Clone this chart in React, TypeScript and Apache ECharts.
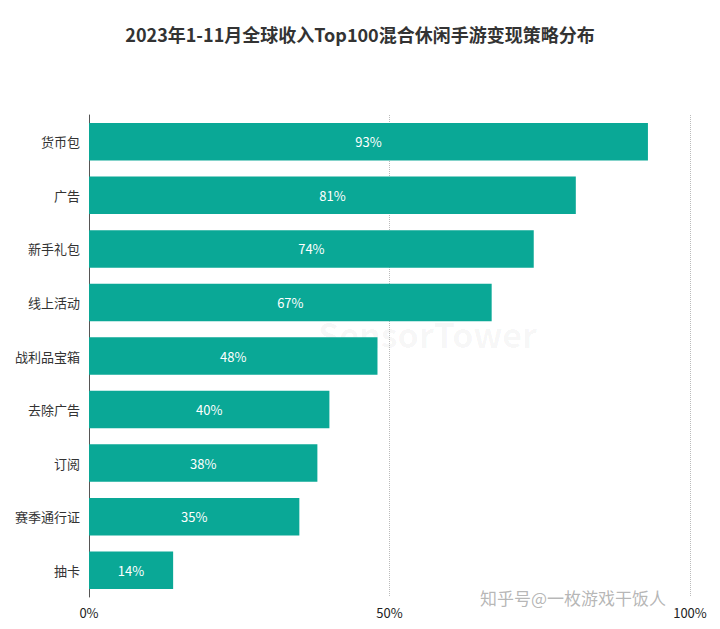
import React, { useEffect, useRef } from "react";
import * as echarts from "echarts";

const categories = ["货币包", "广告", "新手礼包", "线上活动", "战利品宝箱", "去除广告", "订阅", "赛季通行证", "抽卡"];
const values = [93, 81, 74, 67, 48, 40, 38, 35, 14];
const xTicks = [0, 50, 100];
const title = "2023年1-11月全球收入Top100混合休闲手游变现策略分布";

export default function App() {
  const ref = useRef<HTMLDivElement>(null);
  useEffect(() => {
    if (!ref.current) return;
    const chart = echarts.init(ref.current, undefined, { renderer: "svg" });
    const font = "'Noto Sans CJK SC', 'Noto Sans', sans-serif";
    chart.setOption({
      animation: false,
      backgroundColor: "#ffffff",
      title: {
        text: title,
        left: "center",
        top: 20,
        textStyle: { fontSize: 18, fontWeight: "bold", color: "#333333", fontFamily: font },
      },
      grid: { left: 89, right: 30, top: 115, bottom: 32, containLabel: false },
      xAxis: {
        type: "value",
        min: 0,
        max: 100,
        interval: 50,
        axisLine: { show: false },
        axisTick: { show: false },
        axisLabel: {
          formatter: (v: number) => (xTicks.includes(v) ? v + "%" : ""),
          color: "#222222",
          fontSize: 13,
          margin: 9,
          fontFamily: font,
        },
        splitLine: { show: true, lineStyle: { type: "dotted", color: "#bbbbbb", width: 1 } },
      },
      yAxis: {
        type: "category",
        data: categories,
        inverse: true,
        axisLine: { show: true, lineStyle: { color: "#555555", width: 1 } },
        axisTick: { show: false },
        axisLabel: { color: "#333333", fontSize: 13, margin: 9, fontFamily: font },
      },
      series: [
        {
          type: "bar",
          data: values,
          barCategoryGap: "30%",
          itemStyle: { color: "#0aa896" },
          label: {
            show: true,
            position: "inside",
            formatter: (p: any) => p.value + "%",
            color: "#ffffff",
            fontSize: 13,
            fontFamily: font,
          },
        },
      ],
      graphic: [
        {
          type: "text",
          left: 318,
          top: 316,
          silent: true,
          z: -1,
          style: { text: "SensorTower", fontSize: 34, fontWeight: "bold", fill: "rgba(0,0,0,0.04)", fontFamily: font },
        },
        {
          type: "text",
          left: 480,
          top: 589,
          silent: true,
          z: 100,
          style: { text: "知乎号@一枚游戏干饭人", fontSize: 17, fill: "rgba(120,120,120,0.55)", fontFamily: font },
        },
      ],
    });
    return () => chart.dispose();
  }, []);
  return <div ref={ref} style={{ width: 720, height: 629, position: "absolute", left: 0, top: 0 }} />;
}
